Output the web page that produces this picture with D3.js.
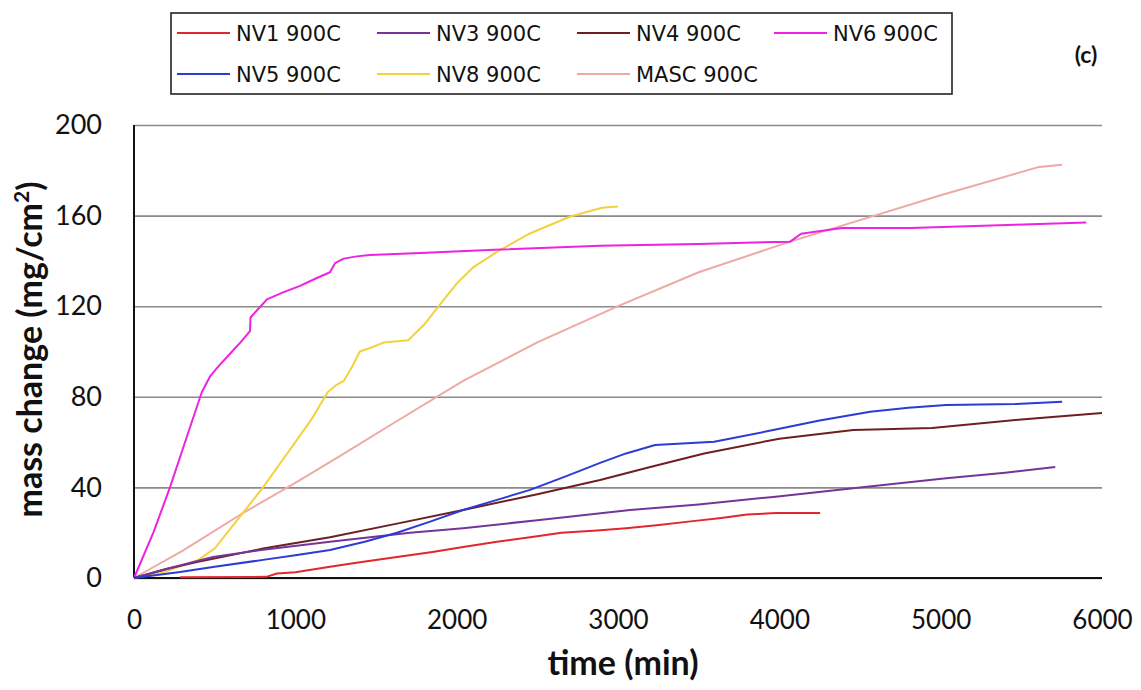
<!DOCTYPE html>
<html>
<head>
<meta charset="utf-8">
<script src="https://cdn.jsdelivr.net/npm/d3@7"></script>
<style>
  body { margin: 0; background: #fff; }
  svg { display: block; }
</style>
</head>
<body>
<div id="chart"></div>
<script>
// tick values
const xTicks = [0, 1000, 2000, 3000, 4000, 5000, 6000];
const yTicks = [0, 40, 80, 120, 160, 200];

// series: [time (min), mass change (mg/cm2)]
const nv1 = [[285,0.3],[820,0.5],[886,2],[1000,2.5],[1215,5],[1400,7],[1630,9.3],[1850,11.5],[2040,13.7],[2250,16],[2455,18],[2650,20],[2870,21],[3050,22],[3254,23.4],[3450,25],[3640,26.5],[3800,28],[3980,28.7],[4253,28.7]];
const nv3 = [[0,0],[200,4],[490,9.3],[800,12.5],[1215,16],[1711,20],[2040,22],[2500,25.5],[3075,30],[3500,32.5],[3962,35.8],[4500,40],[5034,44],[5400,46.5],[5710,49]];
const nv4 = [[0,0],[200,4],[390,7],[800,13],[1215,18],[1630,24],[2040,30],[2500,37],[2889,43.3],[3200,49],[3534,55],[4000,61.5],[4458,65.3],[4947,66.2],[5500,70],[6000,72.8]];
const nv6 = [[0,0],[120,20],[223,40],[340,65],[420,82],[471,89],[530,94],[595,99],[660,104],[719,109],[722,115],[760,118],[824,123],[920,126],[1029,129],[1120,132],[1215,135],[1246,139],[1300,141],[1380,142],[1463,142.6],[1773,143.5],[2269,145],[2889,146.7],[3500,147.5],[4067,148.5],[4135,152],[4389,154.5],[4817,154.5],[5462,156],[5902,157]];
const nv5 = [[0,0],[285,2.6],[500,5],[800,8],[1000,10],[1215,12.4],[1430,16],[1630,20],[1840,25],[2040,30],[2250,34.5],[2455,38.9],[2680,45],[2889,50.8],[3050,55],[3230,58.7],[3596,60.2],[3962,65.3],[4250,69.5],[4563,73.4],[4800,75.2],[5034,76.4],[5462,76.8],[5753,77.8]];
const nv8 = [[0,0],[200,3],[400,8],[500,13],[600,22],[700,31],[800,40],[900,50],[1000,60],[1100,70],[1200,82],[1250,85],[1300,87],[1350,93],[1400,100],[1480,102],[1550,104],[1700,105],[1800,112],[1900,121],[2000,130],[2100,137],[2250,144],[2450,152],[2700,159.5],[2900,163.5],[3000,164]];
const masc = [[0,0],[300,12],[676,28.7],[1000,42],[1258,53],[1600,68],[2040,87],[2500,104],[3000,120],[3500,135],[4067,148.5],[4500,158],[5000,169],[5611,181.5],[5753,182.5]];

const seriesNames = ['NV1 900C', 'NV3 900C', 'NV4 900C', 'NV6 900C', 'NV5 900C', 'NV8 900C', 'MASC 900C'];
const seriesData = [nv1, nv3, nv4, nv6, nv5, nv8, masc];
const seriesColors = ['#e3262b', '#74349a', '#6e1f22', '#ee22e0', '#2b3bd3', '#f2d23c', '#efa9a3'];

const fullWidth = 1141;
const fullHeight = 690;
const margin = {top: 125, right: 39, bottom: 112, left: 134};
const width = fullWidth - margin.left - margin.right;
const height = fullHeight - margin.top - margin.bottom;

const xScale = d3.scaleLinear().domain([0, 6000]).range([0, width]);
const yScale = d3.scaleLinear().domain([0, 200]).range([height, 0]);

const svg = d3.select('#chart')
  .append('svg')
  .attr('width', fullWidth)
  .attr('height', fullHeight);

const g = svg.append('g')
  .attr('transform', 'translate(' + margin.left + ',' + margin.top + ')');

// y gridlines + labels
const yAxis = g.append('g')
  .call(d3.axisLeft(yScale).tickValues(yTicks).tickSize(-width).tickPadding(32));
yAxis.select('.domain').remove();
yAxis.selectAll('line').attr('stroke', '#8a8a8a').attr('stroke-width', 1.6);
yAxis.selectAll('text')
  .attr('font-family', 'Lato, sans-serif')
  .attr('font-size', 27)
  .attr('fill', '#111');

// x axis labels
const xAxis = g.append('g')
  .attr('transform', 'translate(0,' + height + ')')
  .call(d3.axisBottom(xScale).tickValues(xTicks).tickFormat(d3.format('d')).tickSize(0).tickPadding(33));
xAxis.select('.domain').remove();
xAxis.selectAll('text')
  .attr('font-family', 'Lato, sans-serif')
  .attr('font-size', 26)
  .attr('fill', '#111');

// axis lines
g.append('line')
  .attr('x1', 0).attr('x2', 0).attr('y1', 0).attr('y2', height)
  .attr('stroke', '#111').attr('stroke-width', 2);
g.append('line')
  .attr('x1', 0).attr('x2', width).attr('y1', height).attr('y2', height)
  .attr('stroke', '#111').attr('stroke-width', 2.2);

const line = d3.line()
  .x(d => xScale(d[0]))
  .y(d => yScale(d[1]));

// draw in an order close to the original stacking
const drawOrder = [6, 5, 3, 2, 1, 4, 0];
drawOrder.forEach(i => {
  g.append('path')
    .datum(seriesData[i])
    .attr('fill', 'none')
    .attr('stroke', seriesColors[i])
    .attr('stroke-width', 2)
    .attr('stroke-linejoin', 'round')
    .attr('d', line);
});

// axis titles
svg.append('text')
  .attr('transform', 'translate(42,' + (margin.top + height / 2 - 2) + ') rotate(-90)')
  .attr('text-anchor', 'middle')
  .attr('font-family', 'Lato, sans-serif')
  .attr('font-weight', 'bold')
  .attr('font-size', 34)
  .attr('fill', '#111')
  .html('mass change (mg/cm<tspan dy="-13" font-size="21">2</tspan><tspan dy="13">)</tspan>');

svg.append('text')
  .attr('x', margin.left + width / 2 + 5)
  .attr('y', 675)
  .attr('text-anchor', 'middle')
  .attr('font-family', 'Lato, sans-serif')
  .attr('font-weight', 'bold')
  .attr('font-size', 34)
  .attr('fill', '#111')
  .text('time (min)');

svg.append('text')
  .attr('x', 1086)
  .attr('y', 63)
  .attr('text-anchor', 'middle')
  .attr('font-family', 'Lato, sans-serif')
  .attr('font-weight', 'bold')
  .attr('font-size', 23)
  .attr('fill', '#111')
  .text('(c)');

// legend
const legend = svg.append('g');
legend.append('rect')
  .attr('x', 171).attr('y', 13)
  .attr('width', 781).attr('height', 81)
  .attr('fill', 'none')
  .attr('stroke', '#222').attr('stroke-width', 1.6);

const legX = [177, 377, 577, 774];
const legY = [33, 74];
seriesNames.forEach((name, i) => {
  const col = i < 4 ? i : i - 4;
  const row = i < 4 ? 0 : 1;
  const item = legend.append('g')
    .attr('transform', 'translate(' + legX[col] + ',' + legY[row] + ')');
  item.append('line')
    .attr('x1', 0).attr('x2', 53)
    .attr('stroke', seriesColors[i]).attr('stroke-width', 2);
  item.append('text')
    .attr('x', 59).attr('dy', '0.36em')
    .attr('font-family', 'DejaVu Sans, sans-serif')
    .attr('font-size', 21)
    .attr('fill', '#111')
    .text(name);
});
</script>
</body>
</html>
